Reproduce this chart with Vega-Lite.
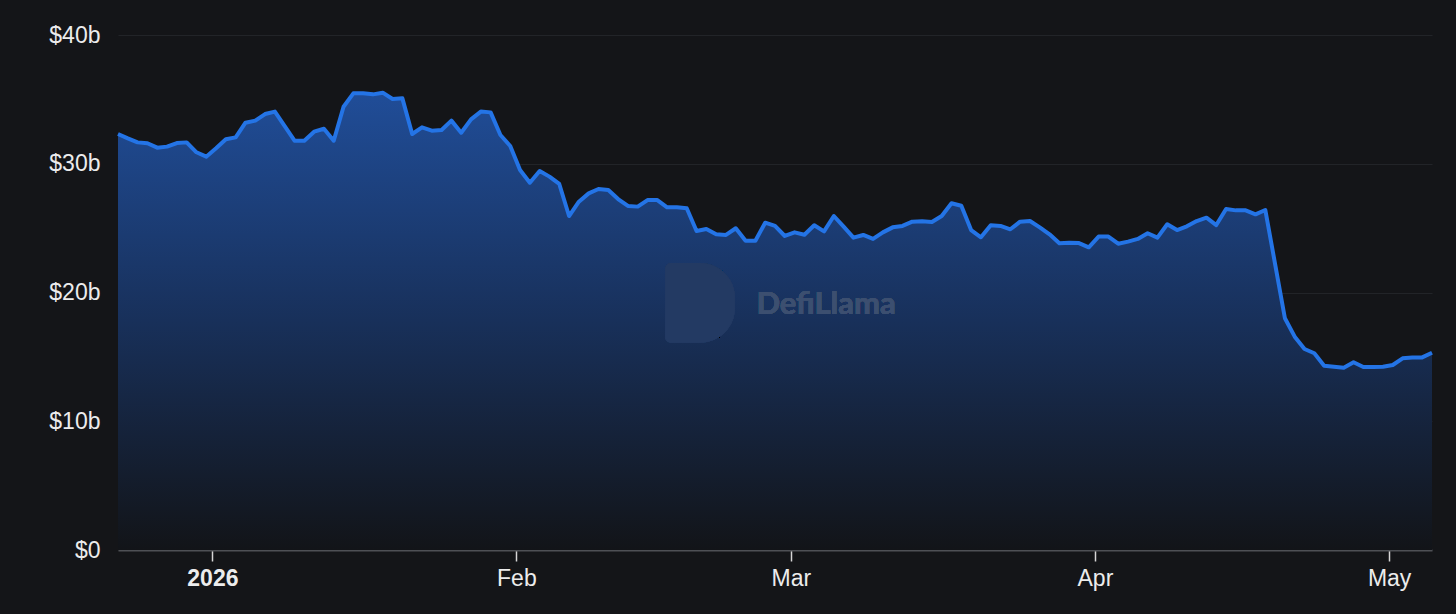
{
  "$schema": "https://vega.github.io/schema/vega-lite/v6.json",
  "background": "#141518",
  "autosize": "none",
  "width": 1314,
  "height": 515,
  "padding": {"left": 118, "top": 35, "right": 24, "bottom": 64},
  "data": {
    "values": [
      {"date": "2025-12-22T09:00", "tvl": 32.31},
      {"date": "2025-12-23T09:00", "tvl": 31.97},
      {"date": "2025-12-24T09:00", "tvl": 31.66},
      {"date": "2025-12-25T09:00", "tvl": 31.59},
      {"date": "2025-12-26T09:00", "tvl": 31.25},
      {"date": "2025-12-27T09:00", "tvl": 31.33},
      {"date": "2025-12-28T09:00", "tvl": 31.61},
      {"date": "2025-12-29T09:00", "tvl": 31.66},
      {"date": "2025-12-30T09:00", "tvl": 30.89},
      {"date": "2025-12-31T09:00", "tvl": 30.55},
      {"date": "2026-01-01T09:00", "tvl": 31.2},
      {"date": "2026-01-02T09:00", "tvl": 31.9},
      {"date": "2026-01-03T09:00", "tvl": 32.05},
      {"date": "2026-01-04T09:00", "tvl": 33.19},
      {"date": "2026-01-05T09:00", "tvl": 33.35},
      {"date": "2026-01-06T09:00", "tvl": 33.86},
      {"date": "2026-01-07T09:00", "tvl": 34.05},
      {"date": "2026-01-08T09:00", "tvl": 32.93},
      {"date": "2026-01-09T09:00", "tvl": 31.79},
      {"date": "2026-01-10T09:00", "tvl": 31.79},
      {"date": "2026-01-11T09:00", "tvl": 32.49},
      {"date": "2026-01-12T09:00", "tvl": 32.72},
      {"date": "2026-01-13T09:00", "tvl": 31.79},
      {"date": "2026-01-14T09:00", "tvl": 34.43},
      {"date": "2026-01-15T09:00", "tvl": 35.47},
      {"date": "2026-01-16T09:00", "tvl": 35.47},
      {"date": "2026-01-17T09:00", "tvl": 35.39},
      {"date": "2026-01-18T09:00", "tvl": 35.52},
      {"date": "2026-01-19T09:00", "tvl": 35.03},
      {"date": "2026-01-20T09:00", "tvl": 35.08},
      {"date": "2026-01-21T09:00", "tvl": 32.31},
      {"date": "2026-01-22T09:00", "tvl": 32.83},
      {"date": "2026-01-23T09:00", "tvl": 32.57},
      {"date": "2026-01-24T09:00", "tvl": 32.62},
      {"date": "2026-01-25T09:00", "tvl": 33.35},
      {"date": "2026-01-26T09:00", "tvl": 32.41},
      {"date": "2026-01-27T09:00", "tvl": 33.45},
      {"date": "2026-01-28T09:00", "tvl": 34.05},
      {"date": "2026-01-29T09:00", "tvl": 33.99},
      {"date": "2026-01-30T09:00", "tvl": 32.23},
      {"date": "2026-01-31T09:00", "tvl": 31.38},
      {"date": "2026-02-01T09:00", "tvl": 29.51},
      {"date": "2026-02-02T09:00", "tvl": 28.53},
      {"date": "2026-02-03T09:00", "tvl": 29.44},
      {"date": "2026-02-04T09:00", "tvl": 29.0},
      {"date": "2026-02-05T09:00", "tvl": 28.43},
      {"date": "2026-02-06T09:00", "tvl": 25.94},
      {"date": "2026-02-07T09:00", "tvl": 27.05},
      {"date": "2026-02-08T09:00", "tvl": 27.7},
      {"date": "2026-02-09T09:00", "tvl": 28.04},
      {"date": "2026-02-10T09:00", "tvl": 27.96},
      {"date": "2026-02-11T09:00", "tvl": 27.26},
      {"date": "2026-02-12T09:00", "tvl": 26.72},
      {"date": "2026-02-13T09:00", "tvl": 26.67},
      {"date": "2026-02-14T09:00", "tvl": 27.18},
      {"date": "2026-02-15T09:00", "tvl": 27.18},
      {"date": "2026-02-16T09:00", "tvl": 26.62},
      {"date": "2026-02-17T09:00", "tvl": 26.62},
      {"date": "2026-02-18T09:00", "tvl": 26.54},
      {"date": "2026-02-19T09:00", "tvl": 24.78},
      {"date": "2026-02-20T09:00", "tvl": 24.93},
      {"date": "2026-02-21T09:00", "tvl": 24.52},
      {"date": "2026-02-22T09:00", "tvl": 24.47},
      {"date": "2026-02-23T09:00", "tvl": 24.99},
      {"date": "2026-02-24T09:00", "tvl": 24.02},
      {"date": "2026-02-25T09:00", "tvl": 24.02},
      {"date": "2026-02-26T09:00", "tvl": 25.42},
      {"date": "2026-02-27T09:00", "tvl": 25.17},
      {"date": "2026-02-28T09:00", "tvl": 24.39},
      {"date": "2026-03-01T09:00", "tvl": 24.67},
      {"date": "2026-03-02T09:00", "tvl": 24.49},
      {"date": "2026-03-03T09:00", "tvl": 25.22},
      {"date": "2026-03-04T09:00", "tvl": 24.75},
      {"date": "2026-03-05T09:00", "tvl": 25.94},
      {"date": "2026-03-06T09:00", "tvl": 25.11},
      {"date": "2026-03-07T09:00", "tvl": 24.26},
      {"date": "2026-03-08T09:00", "tvl": 24.47},
      {"date": "2026-03-09T09:00", "tvl": 24.16},
      {"date": "2026-03-10T09:00", "tvl": 24.67},
      {"date": "2026-03-11T09:00", "tvl": 25.06},
      {"date": "2026-03-12T09:00", "tvl": 25.17},
      {"date": "2026-03-13T09:00", "tvl": 25.5},
      {"date": "2026-03-14T09:00", "tvl": 25.53},
      {"date": "2026-03-15T09:00", "tvl": 25.48},
      {"date": "2026-03-16T09:00", "tvl": 25.94},
      {"date": "2026-03-17T09:00", "tvl": 26.93},
      {"date": "2026-03-18T09:00", "tvl": 26.74},
      {"date": "2026-03-19T09:00", "tvl": 24.85},
      {"date": "2026-03-20T09:00", "tvl": 24.29},
      {"date": "2026-03-21T09:00", "tvl": 25.22},
      {"date": "2026-03-22T09:00", "tvl": 25.17},
      {"date": "2026-03-23T09:00", "tvl": 24.91},
      {"date": "2026-03-24T09:00", "tvl": 25.5},
      {"date": "2026-03-25T09:00", "tvl": 25.55},
      {"date": "2026-03-26T09:00", "tvl": 25.06},
      {"date": "2026-03-27T09:00", "tvl": 24.52},
      {"date": "2026-03-28T09:00", "tvl": 23.82},
      {"date": "2026-03-29T09:00", "tvl": 23.87},
      {"date": "2026-03-30T09:00", "tvl": 23.84},
      {"date": "2026-03-31T09:00", "tvl": 23.51},
      {"date": "2026-04-01T09:00", "tvl": 24.34},
      {"date": "2026-04-02T09:00", "tvl": 24.34},
      {"date": "2026-04-03T09:00", "tvl": 23.79},
      {"date": "2026-04-04T09:00", "tvl": 23.95},
      {"date": "2026-04-05T09:00", "tvl": 24.16},
      {"date": "2026-04-06T09:00", "tvl": 24.6},
      {"date": "2026-04-07T09:00", "tvl": 24.26},
      {"date": "2026-04-08T09:00", "tvl": 25.3},
      {"date": "2026-04-09T09:00", "tvl": 24.85},
      {"date": "2026-04-10T09:00", "tvl": 25.14},
      {"date": "2026-04-11T09:00", "tvl": 25.55},
      {"date": "2026-04-12T09:00", "tvl": 25.81},
      {"date": "2026-04-13T09:00", "tvl": 25.24},
      {"date": "2026-04-14T09:00", "tvl": 26.49},
      {"date": "2026-04-15T09:00", "tvl": 26.38},
      {"date": "2026-04-16T09:00", "tvl": 26.38},
      {"date": "2026-04-17T09:00", "tvl": 26.07},
      {"date": "2026-04-18T09:00", "tvl": 26.41},
      {"date": "2026-04-19T09:00", "tvl": 22.21},
      {"date": "2026-04-20T09:00", "tvl": 18.0},
      {"date": "2026-04-21T09:00", "tvl": 16.57},
      {"date": "2026-04-22T09:00", "tvl": 15.61},
      {"date": "2026-04-23T09:00", "tvl": 15.28},
      {"date": "2026-04-24T09:00", "tvl": 14.31},
      {"date": "2026-04-25T09:00", "tvl": 14.24},
      {"date": "2026-04-26T09:00", "tvl": 14.16},
      {"date": "2026-04-27T09:00", "tvl": 14.58},
      {"date": "2026-04-28T09:00", "tvl": 14.21},
      {"date": "2026-04-29T09:00", "tvl": 14.21},
      {"date": "2026-04-30T09:00", "tvl": 14.24},
      {"date": "2026-05-01T09:00", "tvl": 14.37},
      {"date": "2026-05-02T09:00", "tvl": 14.89},
      {"date": "2026-05-03T09:00", "tvl": 14.96},
      {"date": "2026-05-04T09:00", "tvl": 14.96},
      {"date": "2026-05-05T09:00", "tvl": 15.32}
    ]
  },
  "encoding": {
    "x": {
      "field": "date",
      "type": "temporal",
      "title": null,
      "scale": {
        "domain": [
          {"year": 2025, "month": 12, "date": 22, "hours": 9},
          {"year": 2026, "month": 5, "date": 5, "hours": 9}
        ]
      },
      "axis": {
        "values": [
          {"year": 2026, "month": 1, "date": 1},
          {"year": 2026, "month": 2, "date": 1},
          {"year": 2026, "month": 3, "date": 1},
          {"year": 2026, "month": 4, "date": 1},
          {"year": 2026, "month": 5, "date": 1}
        ],
        "labelExpr": "month(datum.value) == 0 ? timeFormat(datum.value, '%Y') : timeFormat(datum.value, '%b')",
        "labelFontWeight": {"condition": {"test": "month(datum.value) == 0", "value": "bold"}, "value": "normal"},
        "grid": false,
        "domainColor": "#4e5055",
        "domainWidth": 2,
        "tickColor": "#d6d6d6",
        "tickWidth": 1.5,
        "tickSize": 11,
        "labelPadding": 6
      }
    },
    "y": {
      "field": "tvl",
      "type": "quantitative",
      "title": null,
      "scale": {"domain": [0, 40], "nice": false},
      "axis": {
        "values": [0, 10, 20, 30, 40],
        "labelExpr": "datum.value == 0 ? '$0' : '$' + datum.value + 'b'",
        "domain": false,
        "ticks": false,
        "tickSize": 0,
        "labelPadding": 18,
        "gridColor": "#222428",
        "gridWidth": 1
      }
    }
  },
  "layer": [
    {
      "mark": {
        "type": "area",
        "color": {
          "gradient": "linear",
          "x1": 0, "y1": 0, "x2": 0, "y2": 1,
          "stops": [
            {"offset": 0, "color": "#204d98"},
            {"offset": 0.5, "color": "#18305a"},
            {"offset": 1, "color": "#121418"}
          ]
        }
      }
    },
    {
      "mark": {
        "type": "rect",
        "fill": "#233a63",
        "cornerRadiusTopLeft": 6,
        "cornerRadiusBottomLeft": 6,
        "cornerRadiusTopRight": 40,
        "cornerRadiusBottomRight": 40
      },
      "encoding": {
        "x": {"datum": {"year": 2026, "month": 2, "date": 16, "hours": 4}, "type": "temporal"},
        "x2": {"datum": {"year": 2026, "month": 2, "date": 23, "hours": 7}},
        "y": {"datum": 22.3, "type": "quantitative"},
        "y2": {"datum": 16.1}
      }
    },
    {
      "mark": {
        "type": "text",
        "text": "DefiLlama",
        "font": "Lato",
        "fontWeight": "bold",
        "fontSize": 31,
        "align": "center",
        "baseline": "middle",
        "fill": "#3c4f70"
      },
      "encoding": {
        "x": {"datum": {"year": 2026, "month": 3, "date": 4, "hours": 14}, "type": "temporal"},
        "y": {"datum": 19.0, "type": "quantitative"}
      }
    },
    {
      "mark": {
        "type": "line",
        "color": "#2474e6",
        "strokeWidth": 4,
        "strokeJoin": "round"
      }
    }
  ],
  "config": {
    "view": {"stroke": null},
    "axis": {
      "labelFont": "Liberation Sans",
      "labelFontSize": 23,
      "labelColor": "#ececec"
    }
  }
}
